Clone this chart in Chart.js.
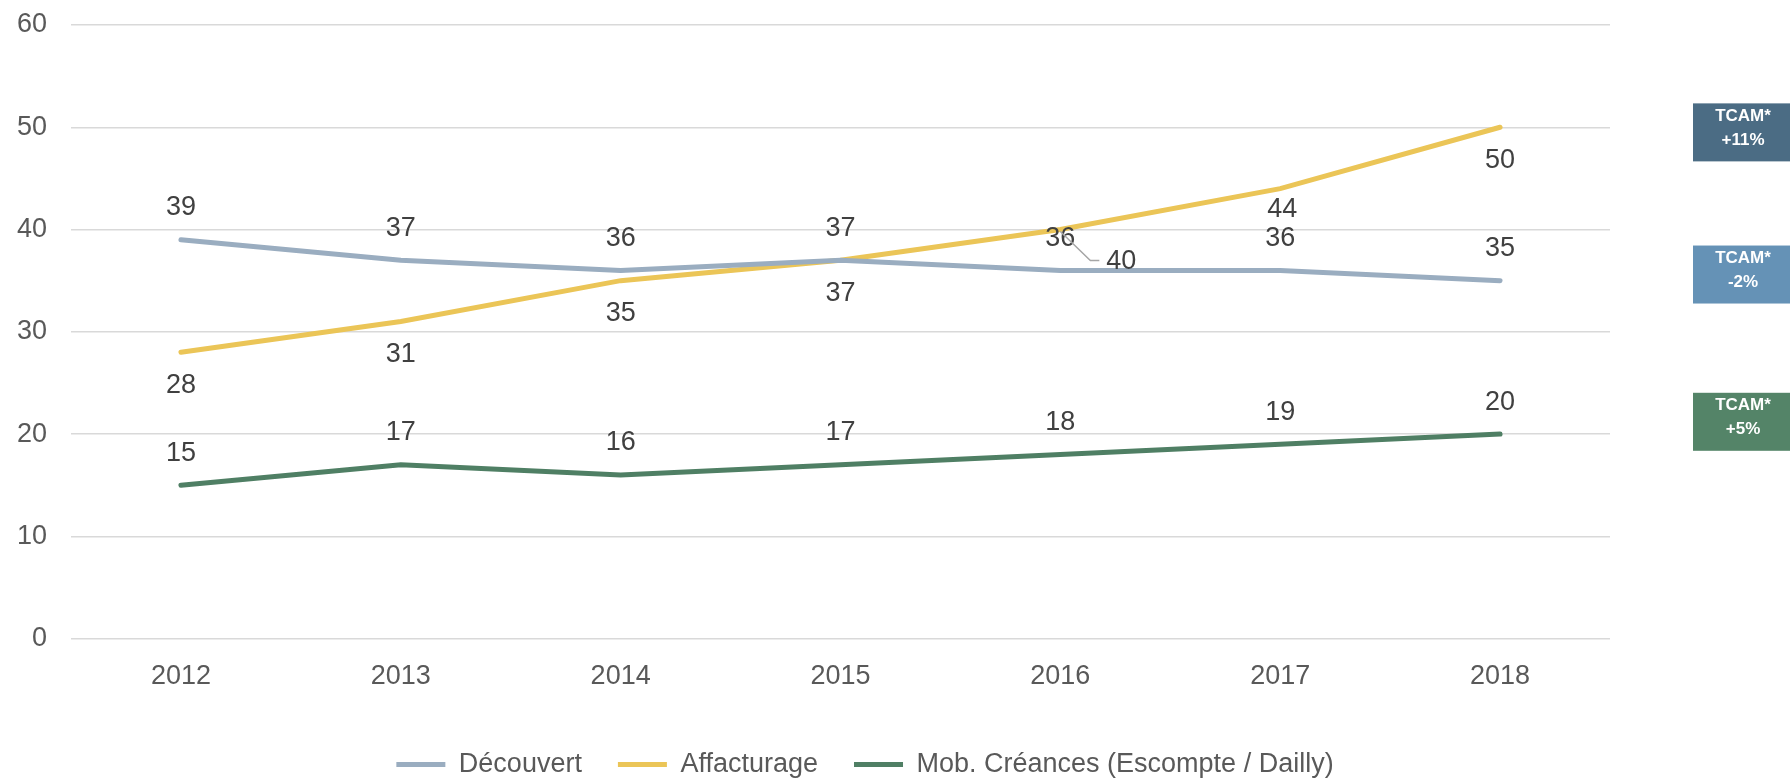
<!DOCTYPE html>
<html>
<head>
<meta charset="utf-8">
<script src="https://cdn.jsdelivr.net/npm/chart.js@4.4.1/dist/chart.umd.min.js"></script>
<style>
  html, body { margin: 0; padding: 0; background: #ffffff; }
  #wrap { width: 1790px; height: 780px; position: relative; }
</style>
</head>
<body>
<div id="wrap"><canvas id="trend-chart"></canvas></div>
<script>
// Chart data
const years = ['2012', '2013', '2014', '2015', '2016', '2017', '2018'];
const decouvert = [39, 37, 36, 37, 36, 36, 35];
const affacturage = [28, 31, 35, 37, 40, 44, 50];
const mobCreances = [15, 17, 16, 17, 18, 19, 20];
const seriesNames = ['Découvert', 'Affacturage', 'Mob. Créances (Escompte / Dailly)'];
const yTickValues = [0, 10, 20, 30, 40, 50, 60];
const tcamTitle = 'TCAM*';
const tcamRates = ['+11%', '-2%', '+5%'];

const FONT = "'Liberation Sans', Arial, sans-serif";

// Value labels: above or below the point, some moved aside
const valueLabelPlugin = {
    id: 'valueLabels',
    afterDatasetsDraw(chart) {
        const ctx = chart.ctx;
        ctx.save();
        ctx.font = '27px ' + FONT;
        ctx.fillStyle = '#404040';
        ctx.textAlign = 'center';
        ctx.textBaseline = 'middle';
        chart.data.datasets.forEach((ds, di) => {
            const meta = chart.getDatasetMeta(di);
            meta.data.forEach((pt, i) => {
                const moved = ds.movedLabels && ds.movedLabels[i];
                if (moved) {
                    if (moved.leader) {
                        ctx.strokeStyle = '#a6a6a6';
                        ctx.lineWidth = 1.5;
                        ctx.beginPath();
                        ctx.moveTo(pt.x, pt.y + 2);
                        ctx.lineTo(pt.x + moved.dx - 31, pt.y + moved.dy - 1);
                        ctx.lineTo(pt.x + moved.dx - 22, pt.y + moved.dy - 1);
                        ctx.stroke();
                    }
                    ctx.fillText(ds.data[i], pt.x + moved.dx, pt.y + moved.dy);
                } else {
                    const dy = ds.labelSide === 'below' ? 33 : -32;
                    ctx.fillText(ds.data[i], pt.x, pt.y + dy);
                }
            });
        });
        ctx.restore();
    }
};

// TCAM boxes on the right side
const tcamBoxes = [
    { value: 49.5, color: '#4b6c84', rate: tcamRates[0] },
    { value: 35.6, color: '#6592b6', rate: tcamRates[1] },
    { value: 21.2, color: '#548468', rate: tcamRates[2] }
];

const tcamPlugin = {
    id: 'tcamBoxes',
    afterDraw(chart) {
        const ctx = chart.ctx;
        const yScale = chart.scales.y;
        const left = chart.chartArea.right + 83;
        const w = 97, h = 58;
        ctx.save();
        tcamBoxes.forEach((b) => {
            const cy = yScale.getPixelForValue(b.value);
            const top = cy - h / 2;
            ctx.fillStyle = b.color;
            ctx.fillRect(left, top, w, h);
            ctx.fillStyle = '#ffffff';
            ctx.font = 'bold 17px ' + FONT;
            ctx.textAlign = 'center';
            ctx.textBaseline = 'middle';
            ctx.fillText(tcamTitle, left + 50, top + 13);
            ctx.fillText(b.rate, left + 50, top + 37);
        });
        ctx.restore();
    }
};

const chartCanvas = document.getElementById('trend-chart');
const chartContext = chartCanvas.getContext('2d');

const chartOptions = {
    type: 'line',
    data: {
        labels: years,
        datasets: [{
            label: seriesNames[0],
            data: decouvert,
            borderColor: '#9aadc0',
            backgroundColor: '#9aadc0',
            borderWidth: 5,
            labelSide: 'above'
        }, {
            label: seriesNames[1],
            data: affacturage,
            borderColor: '#ebc557',
            backgroundColor: '#ebc557',
            borderWidth: 5,
            labelSide: 'below',
            movedLabels: { 4: { dx: 61, dy: 32, leader: true }, 5: { dx: 2, dy: 21 } }
        }, {
            label: seriesNames[2],
            data: mobCreances,
            borderColor: '#4f7f64',
            backgroundColor: '#4f7f64',
            borderWidth: 5,
            labelSide: 'above'
        }]
    },
    options: {
        responsive: false,
        animation: false,
        layout: {
            padding: { top: 25, right: 60, bottom: -8, left: 0 }
        },
        elements: {
            line: { borderCapStyle: 'round', tension: 0 },
            point: { radius: 0, hoverRadius: 0 }
        },
        scales: {
            x: {
                offset: true,
                grid: { display: false, drawTicks: false },
                border: { display: false },
                ticks: {
                    padding: 22,
                    color: '#595959',
                    font: { family: FONT, size: 27 }
                }
            },
            y: {
                min: 0,
                max: 60,
                afterBuildTicks(scale) {
                    scale.ticks = yTickValues.map(v => ({ value: v }));
                },
                afterFit(scale) {
                    scale.width = 71;
                    scale.paddingTop = 0;
                    scale.paddingBottom = 0;
                },
                grid: { color: '#d9d9d9', lineWidth: 1.5, drawTicks: false },
                border: { display: false },
                ticks: {
                    padding: 24,
                    color: '#595959',
                    font: { family: FONT, size: 27 }
                }
            },
            side: {
                position: 'right',
                display: true,
                grid: { display: false, drawTicks: false },
                border: { display: false },
                ticks: { display: false },
                afterFit(scale) { scale.width = 120; }
            }
        },
        plugins: {
            tooltip: { enabled: false },
            legend: {
                position: 'bottom',
                labels: {
                    usePointStyle: true,
                    pointStyle: 'line',
                    pointStyleWidth: 49,
                    padding: 36,
                    color: '#595959',
                    font: { family: FONT, size: 27 }
                }
            }
        }
    },
    plugins: [valueLabelPlugin, tcamPlugin]
};

chartCanvas.width = 1790;
chartCanvas.height = 780;
const trendChart = new Chart(chartContext, chartOptions);
</script>
</body>
</html>
